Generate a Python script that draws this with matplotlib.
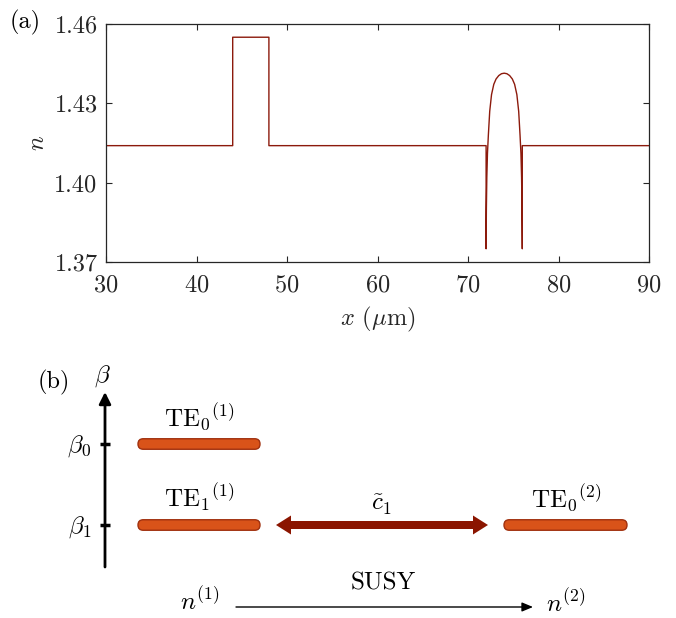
import numpy as np
import matplotlib.pyplot as plt
from matplotlib.patches import FancyBboxPatch

plt.rcParams['font.family'] = ['cmr10', 'DejaVu Serif']
plt.rcParams['mathtext.fontset'] = 'cm'
plt.rcParams['axes.formatter.use_mathtext'] = True
plt.rcParams['axes.unicode_minus'] = False

# refractive index profile n(x): step waveguide at 44-48 um and the SUSY partner at 72-76 um
x_pts = [30.0, 44.0, 44.0, 48.0, 48.0, 72.0, 72.0,
         72.03, 72.08, 72.15, 72.25, 72.4, 72.6, 72.85, 73.1, 73.4, 73.7, 74.0,
         74.3, 74.6, 74.9, 75.15, 75.4, 75.6, 75.75, 75.85, 75.92, 75.97,
         76.0, 76.0, 90.0]
n_pts = [1.414, 1.414, 1.455, 1.455, 1.414, 1.414, 1.375,
         1.390, 1.402, 1.411, 1.418, 1.427, 1.4333, 1.4372, 1.4392, 1.4405, 1.4412, 1.4414,
         1.4412, 1.4405, 1.4392, 1.4372, 1.4333, 1.427, 1.418, 1.411, 1.402, 1.390,
         1.375, 1.414, 1.414]
x_ticks = [30, 40, 50, 60, 70, 80, 90]
n_ticks = [1.37, 1.40, 1.43, 1.46]

# mode diagram for panel (b)
beta_names = [r'$\beta_0$', r'$\beta_1$']
modes_left = [r'$\mathrm{TE}_0{}^{(1)}$', r'$\mathrm{TE}_1{}^{(1)}$']
modes_right = [r'$\mathrm{TE}_0{}^{(2)}$']
coupling_label = r'$\tilde{c}_1$'

line_col = '#8c1a0c'
axis_col = '#262626'
bar_face = '#d95319'
bar_edge = '#a0300e'
arrow_col = '#8b1500'

fig = plt.figure(figsize=(6.76, 6.18), dpi=100)

# ---- (a) index profile ----
ax = fig.add_axes([106 / 676, 1 - 262 / 618, 543 / 676, 238 / 618])
ax.plot(x_pts, n_pts, color=line_col, lw=1.0)
ax.set_xlim(30, 90)
ax.set_ylim(1.37, 1.46)
ax.set_xticks(x_ticks)
ax.set_yticks(n_ticks)
ax.set_yticklabels(['%.2f' % v for v in n_ticks])
ax.tick_params(direction='in', length=4, width=0.8, top=True, right=True,
               labelsize=17.5, colors=axis_col)
ax.tick_params(axis='x', pad=9)
ax.tick_params(axis='y', pad=6)
for s in ax.spines.values():
    s.set_color(axis_col)
    s.set_linewidth(0.9)
ax.set_xlabel(r'$x$ ($\mu$m)', fontsize=17.5, color=axis_col, labelpad=6)
ax.set_ylabel(r'$n$', fontsize=17.5, color=axis_col, labelpad=4)
fig.text(10 / 676, 1 - 22 / 618, '(a)', fontsize=17.5, va='center', ha='left')

# ---- (b) mode diagram, axes in pixel units ----
bx = fig.add_axes([0, 0, 1, 278 / 618])
bx.set_xlim(0, 676)
bx.set_ylim(618, 340)
bx.axis('off')

y_levels = [444, 525]
axis_x = 105
bar_h = 10.5

# beta axis
bx.annotate('', xy=(axis_x, 392), xytext=(axis_x, 567),
            arrowprops=dict(arrowstyle='-|>,head_length=0.5,head_width=0.25',
                            color='black', lw=2.0, mutation_scale=14,
                            shrinkA=0, shrinkB=0))
bx.text(axis_x - 3, 376, r'$\beta$', fontsize=18, ha='center', va='center')
bx.text(38, 382, '(b)', fontsize=17.5, ha='left', va='center')
for yl, name in zip(y_levels, beta_names):
    bx.plot([axis_x - 5, axis_x + 5], [yl, yl], color='black', lw=2.5,
            solid_capstyle='butt')
    bx.text(axis_x - 14, yl + 2, name, fontsize=18, ha='right', va='center')


def mode_bar(x0, x1, y):
    box = FancyBboxPatch((x0, y - bar_h / 2), x1 - x0, bar_h,
                         boxstyle='round,pad=0,rounding_size=%g' % (bar_h / 2),
                         fc=bar_face, ec=bar_edge, lw=1.0)
    bx.add_patch(box)


for yl, lab in zip(y_levels, modes_left):
    mode_bar(138, 260, yl)
    bx.text(199, yl - 27, lab, fontsize=18, ha='center', va='center')
mode_bar(504, 627, y_levels[1])
bx.text(566, y_levels[1] - 27, modes_right[0], fontsize=18, ha='center', va='center')

# coupling arrow between the partner modes
mid = (276 + 488) / 2
for end in (276, 488):
    bx.arrow(mid, y_levels[1], end - mid, 0, width=8, head_width=19,
             head_length=15, length_includes_head=True, fc=arrow_col,
             ec='none')
bx.text(mid, y_levels[1] - 20, coupling_label, fontsize=18, ha='center', va='center')

# SUSY transformation arrow
bx.annotate('', xy=(533, 607), xytext=(236, 607),
            arrowprops=dict(arrowstyle='-|>,head_length=0.6,head_width=0.25',
                            color='black', lw=1.0, mutation_scale=11,
                            shrinkA=0, shrinkB=0))
bx.text(383, 583, 'SUSY', fontsize=18, ha='center', va='center')
bx.text(200, 601, r'$n^{(1)}$', fontsize=18, ha='center', va='center')
bx.text(566, 603, r'$n^{(2)}$', fontsize=18, ha='center', va='center')

fig.savefig('out.png', dpi=100)
